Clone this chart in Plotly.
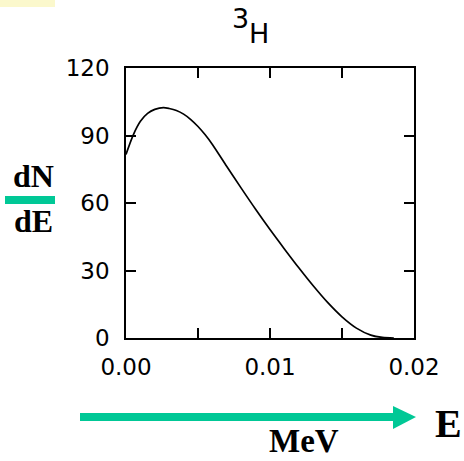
import plotly.graph_objects as go

# Data (tritium beta spectrum)
energy_mev = [0.0, 0.0005, 0.001, 0.0015, 0.002, 0.0026, 0.003, 0.0035, 0.004, 0.0045,
              0.005, 0.0055, 0.006, 0.007, 0.008, 0.009, 0.010, 0.011, 0.012, 0.013,
              0.014, 0.015, 0.016, 0.017, 0.0178, 0.0186]
dn_de = [81.6, 90.2, 96.3, 99.8, 101.6, 102.4, 102.0, 101.1, 99.5, 97.1,
         94.0, 90.3, 86.0, 76.2, 66.6, 57.2, 48.2, 39.6, 31.2, 23.2,
         15.8, 9.4, 4.4, 1.3, 0.25, 0.0]

x_tickvals = [0.0, 0.005, 0.01, 0.015, 0.02]
x_ticktext = ["0.00", "", "0.01", "", "0.02"]
y_tickvals = [0, 30, 60, 90, 120]
y_ticktext = ["0", "30", "60", "90", "120"]

W, H = 464, 461
L, R, T, B = 126, 414, 68, 338
GREEN = "#00c896"


def px(x):
    return (x - L) / (R - L)


def py(y):
    return (B - y) / (B - T)


fig = go.Figure()
fig.add_trace(go.Scatter(x=energy_mev, y=dn_de, mode="lines",
                         line=dict(color="black", width=1.7, shape="spline", smoothing=0.8),
                         hoverinfo="skip", showlegend=False))

axis_font = dict(family="DejaVu Sans", size=23, color="black")
fig.update_xaxes(range=[0, 0.02], tickvals=x_tickvals, ticktext=x_ticktext,
                 ticks="inside", ticklen=10, tickwidth=1.5, tickcolor="black",
                 showline=True, linecolor="black", linewidth=1.6, mirror="ticks",
                 showgrid=False, zeroline=False, tickfont=axis_font, ticklabelstandoff=8)
fig.update_yaxes(range=[0, 120], tickvals=y_tickvals, ticktext=y_ticktext,
                 ticks="inside", ticklen=10, tickwidth=1.5, tickcolor="black",
                 showline=True, linecolor="black", linewidth=1.6, mirror="ticks",
                 showgrid=False, zeroline=False, tickfont=axis_font, ticklabelstandoff=10)

serif_bold = "Liberation Serif"
annotations = [
    dict(x=px(240), y=py(19), text="3", font=dict(family="DejaVu Sans", size=27, color="black")),
    dict(x=px(259), y=py(33), text="H", font=dict(family="DejaVu Sans", size=27, color="black")),
    dict(x=px(33), y=py(176), text="<b>dN</b>", font=dict(family=serif_bold, size=32, color="black")),
    dict(x=px(33), y=py(221), text="<b>dE</b>", font=dict(family=serif_bold, size=32, color="black")),
    dict(x=px(448), y=py(423), text="<b>E</b>", font=dict(family=serif_bold, size=40, color="black")),
]
for a in annotations:
    a.update(xref="paper", yref="paper", showarrow=False, xanchor="center", yanchor="middle")
annotations.append(dict(x=px(304), y=py(460), xref="paper", yref="paper", showarrow=False,
                        xanchor="center", yanchor="bottom", borderpad=0,
                        text="<b>MeV</b>", font=dict(family=serif_bold, size=33, color="black")))

shapes = [
    # green fraction bar
    dict(type="rect", xref="paper", yref="paper", x0=px(5), x1=px(55), y0=py(196), y1=py(204),
         fillcolor=GREEN, line=dict(width=0)),
    # arrow shaft
    dict(type="rect", xref="paper", yref="paper", x0=px(80), x1=px(395), y0=py(413), y1=py(421),
         fillcolor=GREEN, line=dict(width=0)),
    # arrow head
    dict(type="path", xref="paper", yref="paper",
         path=f"M {px(393)} {py(406)} L {px(416)} {py(417)} L {px(393)} {py(429)} Z",
         fillcolor=GREEN, line=dict(width=0)),
    # pale yellow strip at top-left corner
    dict(type="rect", xref="paper", yref="paper", x0=px(0), x1=px(55), y0=py(0), y1=py(7),
         fillcolor="#fbf8cc", line=dict(width=0)),
]

fig.update_layout(width=W, height=H, margin=dict(l=L, r=W - R, t=T, b=H - B),
                  paper_bgcolor="white", plot_bgcolor="white",
                  annotations=annotations, shapes=shapes, showlegend=False)

fig.write_html("out.html", config={"displayModeBar": False},
               post_script="document.body.style.margin='0';document.body.style.padding='0';")
